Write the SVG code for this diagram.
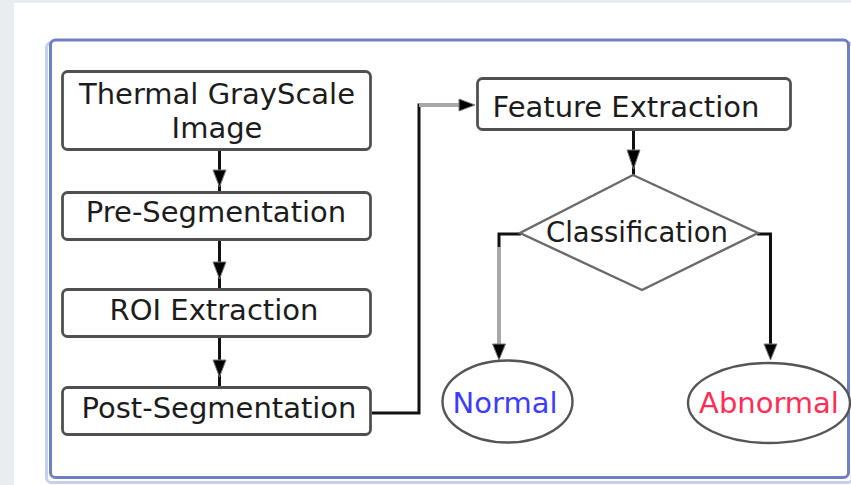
<svg xmlns="http://www.w3.org/2000/svg" width="851" height="485" viewBox="0 0 851 485">
  <defs>
    <style>
      .box { fill: #ffffff; stroke: #505050; stroke-width: 2.8; }
      .lbl { font-family: "DejaVu Sans", Verdana, sans-serif; font-size: 29px; fill: #1c1c1c; text-anchor: middle; }
      .wire { fill: none; stroke: #111111; stroke-width: 3; }
      .wire-grey { fill: none; stroke: #a8a8a8; stroke-width: 4; }
      .head { fill: #000000; stroke: #7a7a7a; stroke-width: 1; }
    </style>
  </defs>

  <!-- page background -->
  <rect x="0" y="0" width="851" height="485" fill="#e9edf2"/>
  <rect x="14" y="3" width="837" height="482" fill="#ffffff"/>

  <!-- outer frame -->
  <rect x="46.5" y="42.5" width="806" height="440" rx="5" fill="none" stroke="#c6d0ea" stroke-width="3"/>
  <rect x="50.5" y="40" width="798" height="437.5" rx="5" fill="#ffffff" stroke="#6c80c3" stroke-width="3"/>

  <!-- connectors -->
  <g id="connectors">
    <line class="wire" x1="219.5" y1="150" x2="219.5" y2="192"/>
    <polygon class="head" points="213,170 226,170 219.5,187"/>
    <line class="wire" x1="219.5" y1="240" x2="219.5" y2="289"/>
    <polygon class="head" points="213,262 226,262 219.5,279"/>
    <line class="wire" x1="219.5" y1="337" x2="219.5" y2="387"/>
    <polygon class="head" points="213,360 226,360 219.5,377"/>

    <polyline class="wire" points="372,413 419,413 419,105 460,105"/>
    <line class="wire-grey" x1="419" y1="105" x2="460" y2="105"/>
    <polygon class="head" points="459,99 459,111 475,105"/>

    <line class="wire" x1="633.5" y1="130" x2="633.5" y2="175"/>
    <polygon class="head" points="627,150 640,150 633.5,169"/>

    <polyline class="wire" points="521,234 499,234 499,248"/>
    <line class="wire-grey" x1="499" y1="247" x2="499" y2="344"/>
    <polygon class="head" points="492.5,344 505.5,344 499,360"/>

    <polyline class="wire" points="757,234 770.5,234 770.5,346"/>
    <polygon class="head" points="764,344 777,344 770.5,360"/>
  </g>

  <!-- process boxes -->
  <g id="thermal-image">
    <rect class="box" x="62.5" y="71.5" width="308" height="78" rx="5"/>
    <text class="lbl" x="217" y="104">Thermal GrayScale</text>
    <text class="lbl" x="217" y="138">Image</text>
  </g>
  <g id="pre-segmentation">
    <rect class="box" x="62.5" y="192.5" width="308" height="47" rx="5"/>
    <text class="lbl" x="216" y="222">Pre-Segmentation</text>
  </g>
  <g id="roi-extraction">
    <rect class="box" x="62.5" y="289.5" width="308" height="47" rx="5"/>
    <text class="lbl" x="214" y="320">ROI Extraction</text>
  </g>
  <g id="post-segmentation">
    <rect class="box" x="62.5" y="387.5" width="308" height="47" rx="5"/>
    <text class="lbl" x="219" y="418">Post-Segmentation</text>
  </g>
  <g id="feature-extraction">
    <rect class="box" x="477.5" y="78.5" width="313" height="51" rx="5"/>
    <text class="lbl" x="626" y="117">Feature Extraction</text>
  </g>

  <!-- decision -->
  <g id="classification">
    <polygon points="633,175 758,233 642,290 520,233" fill="#ffffff" stroke="#6a6a6a" stroke-width="2.4"/>
    <text class="lbl" x="637" y="242" style="font-size:27.5px">Classification</text>
  </g>

  <!-- outcomes -->
  <g id="normal">
    <ellipse cx="507.5" cy="401.5" rx="65" ry="41" fill="#ffffff" stroke="#555555" stroke-width="2.4"/>
    <text class="lbl" x="505" y="413" style="fill:#3c3cff">Normal</text>
  </g>
  <g id="abnormal">
    <ellipse cx="769" cy="403" rx="81" ry="40" fill="#ffffff" stroke="#555555" stroke-width="2.4"/>
    <text class="lbl" x="769" y="413" style="fill:#ff2d55">Abnormal</text>
  </g>
</svg>
